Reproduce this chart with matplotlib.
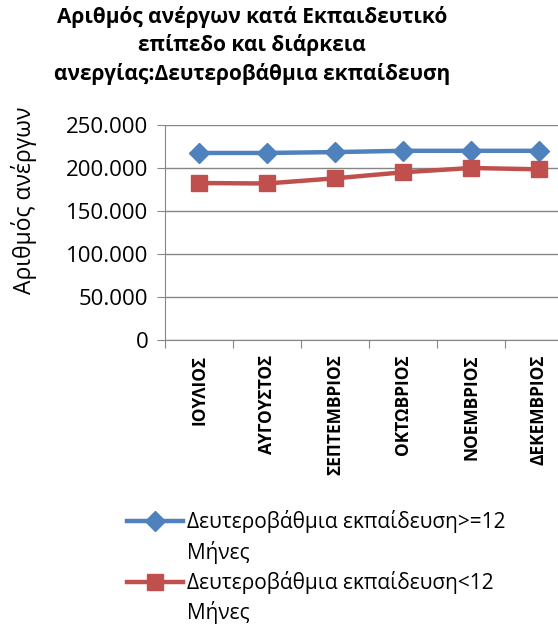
import matplotlib
matplotlib.use("Agg")
from matplotlib import pyplot as plt
from matplotlib import ticker
from matplotlib.lines import Line2D
import numpy as np

plt.rcParams["font.family"] = ["Open Sans", "DejaVu Sans"]

MONTHS = ["ΙΟΥΛΙΟΣ", "ΑΥΓΟΥΣΤΟΣ", "ΣΕΠΤΕΜΒΡΙΟΣ", "ΟΚΤΩΒΡΙΟΣ", "ΝΟΕΜΒΡΙΟΣ", "ΔΕΚΕΜΒΡΙΟΣ"]
LONG_TERM = [217500, 217500, 218500, 220000, 220000, 220000]
SHORT_TERM = [182500, 182000, 188000, 195000, 200000, 198500]
LABEL_LONG = ["Δευτεροβάθμια εκπαίδευση>=12", "Μήνες"]
LABEL_SHORT = ["Δευτεροβάθμια εκπαίδευση<12", "Μήνες"]
TITLE = "Αριθμός ανέργων κατά Εκπαιδευτικό\nεπίπεδο και διάρκεια\nανεργίας:Δευτεροβάθμια εκπαίδευση"
YLABEL = "Αριθμός ανέργων"

BLUE = "#4F81BD"
RED = "#C0504D"
GRID = "#868686"

fig = plt.figure(figsize=(5.58, 6.27), dpi=100)
ax = fig.add_axes([165 / 558, 1 - 340 / 627, 408 / 558, 215 / 627])

x = np.arange(len(MONTHS))
h_long, = ax.plot(x, LONG_TERM, color=BLUE, lw=3.2, marker="D", ms=10)
h_short, = ax.plot(x, SHORT_TERM, color=RED, lw=3.2, marker="s", ms=12)

ax.set_xlim(-0.5, len(MONTHS) - 0.5)
ax.set_ylim(0, 250000)
ax.yaxis.set_major_locator(ticker.MultipleLocator(50000))
ax.yaxis.set_major_formatter(
    ticker.FuncFormatter(lambda v, p: f"{int(v):,}".replace(",", "."))
)
ax.grid(axis="y", color=GRID, lw=1)
ax.set_axisbelow(True)

ax.xaxis.set_major_locator(ticker.FixedLocator(np.arange(len(MONTHS) + 1) - 0.5))
ax.xaxis.set_major_formatter(ticker.NullFormatter())
ax.xaxis.set_minor_locator(ticker.FixedLocator(x))
ax.xaxis.set_minor_formatter(ticker.FixedFormatter(MONTHS))
ax.tick_params(axis="x", which="major", length=6, color=GRID, direction="out")
ax.tick_params(axis="x", which="minor", length=0, pad=10.5, labelsize=12.5, rotation=90)
for t in ax.xaxis.get_minorticklabels():
    t.set_fontweight("bold")
    t.set_verticalalignment("top")
ax.tick_params(axis="y", length=6, color=GRID, labelsize=16, pad=6)

for side in ["top", "right"]:
    ax.spines[side].set_visible(False)
for side in ["left", "bottom"]:
    ax.spines[side].set_color(GRID)

ax.set_ylabel(YLABEL, fontsize=16.5)
ax.yaxis.set_label_coords(-0.314, 0.65)

fig.text(252 / 558, 1 - 6 / 627, TITLE, ha="center", va="top", fontsize=15,
         fontweight="bold", linespacing=1.37)

blank = Line2D([], [], linestyle="none")
fig.legend([h_long, blank, h_short, blank],
           [LABEL_LONG[0], LABEL_LONG[1], LABEL_SHORT[0], LABEL_SHORT[1]],
           loc="upper left", bbox_to_anchor=(127 / 558, 1 - 510 / 627),
           frameon=False, fontsize=15, handlelength=2.7, handletextpad=0.2,
           labelspacing=0.36, borderpad=0, borderaxespad=0)

fig.savefig("out.png", dpi=100)
